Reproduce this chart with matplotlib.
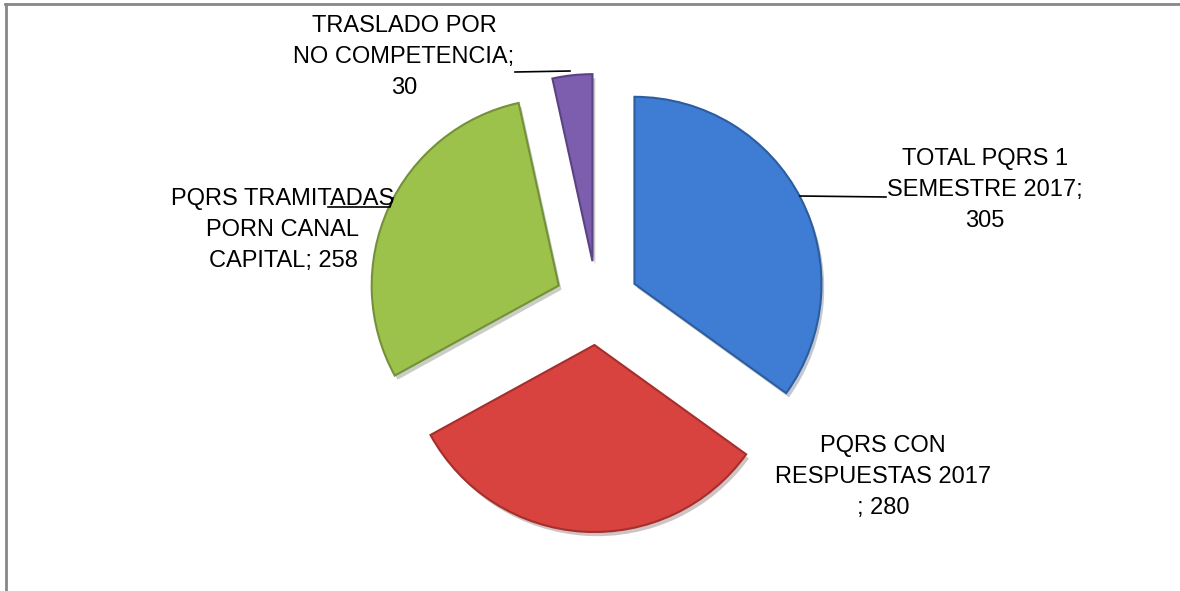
import numpy as np
import matplotlib
matplotlib.use("Agg")
import matplotlib.pyplot as plt
from matplotlib import patheffects as pe
from matplotlib.lines import Line2D
from matplotlib import font_manager

# data
labels = ["TOTAL PQRS 1\nSEMESTRE 2017;\n305",
          "PQRS CON\nRESPUESTAS 2017\n; 280",
          "PQRS TRAMITADAS\nPORN CANAL\nCAPITAL; 258",
          "TRASLADO POR\nNO COMPETENCIA;\n30"]
values = [305, 280, 258, 30]
colors = ["#3f7dd4", "#d8433f", "#9cc24c", "#7d5eae"]
edge_colors = ["#2c5d9e", "#a52f2c", "#73913a", "#5b4283"]

names = {f.name for f in font_manager.fontManager.ttflist}
font = "Liberation Sans Narrow" if "Liberation Sans Narrow" in names else "Liberation Sans"
plt.rcParams["font.family"] = [font, "DejaVu Sans"]

W, H = 1180, 591
fig = plt.figure(figsize=(W / 100, H / 100), dpi=100)
ax = fig.add_axes([0, 0, 1, 1])

R = 187.0          # radius in pixels
cx, cy = 597, 303  # pie centre in pixels (from top)

wedges, _ = ax.pie(values, colors=colors, startangle=90, counterclock=False,
                   explode=[0.225] * len(values), radius=1,
                   wedgeprops=dict(linewidth=1.5))
for w, ec in zip(wedges, edge_colors):
    w.set_edgecolor(ec)
    w.set_path_effects([pe.SimplePatchShadow(offset=(2, -3), alpha=0.25),
                        pe.Normal()])

ax.set_xlim(-cx / R, (W - cx) / R)
ax.set_ylim(-(H - cy) / R, cy / R)
ax.set_aspect("auto")
ax.axis("off")


def px(x, y):
    return (x - cx) / R, (cy - y) / R


tkw = dict(ha="center", va="center", fontsize=17, linespacing=1.52, color="black")
ax.text(*px(985, 190), labels[0], **tkw)
ax.text(*px(883, 477), labels[1], **tkw)
ax.text(*px(283, 230), labels[2], **tkw)
ax.text(*px(404, 57), labels[3], **tkw)

# leader lines
lx, ly = zip(px(800, 196), px(886, 197))
ax.plot(lx, ly, color="black", lw=1.2)
lx, ly = zip(px(328, 207), px(390, 207), px(393, 198))
ax.plot(lx, ly, color="black", lw=1.2)
lx, ly = zip(px(515, 72), px(570, 71))
ax.plot(lx, ly, color="black", lw=1.2)

# chart frame (top and left edges visible)
fig.add_artist(Line2D([5 / W, 1], [1 - 4 / H, 1 - 4 / H], color="#878787", lw=2))
fig.add_artist(Line2D([5.5 / W, 5.5 / W], [0, 1 - 4 / H], color="#878787", lw=2))

fig.savefig("out.png", dpi=100, facecolor="white")
